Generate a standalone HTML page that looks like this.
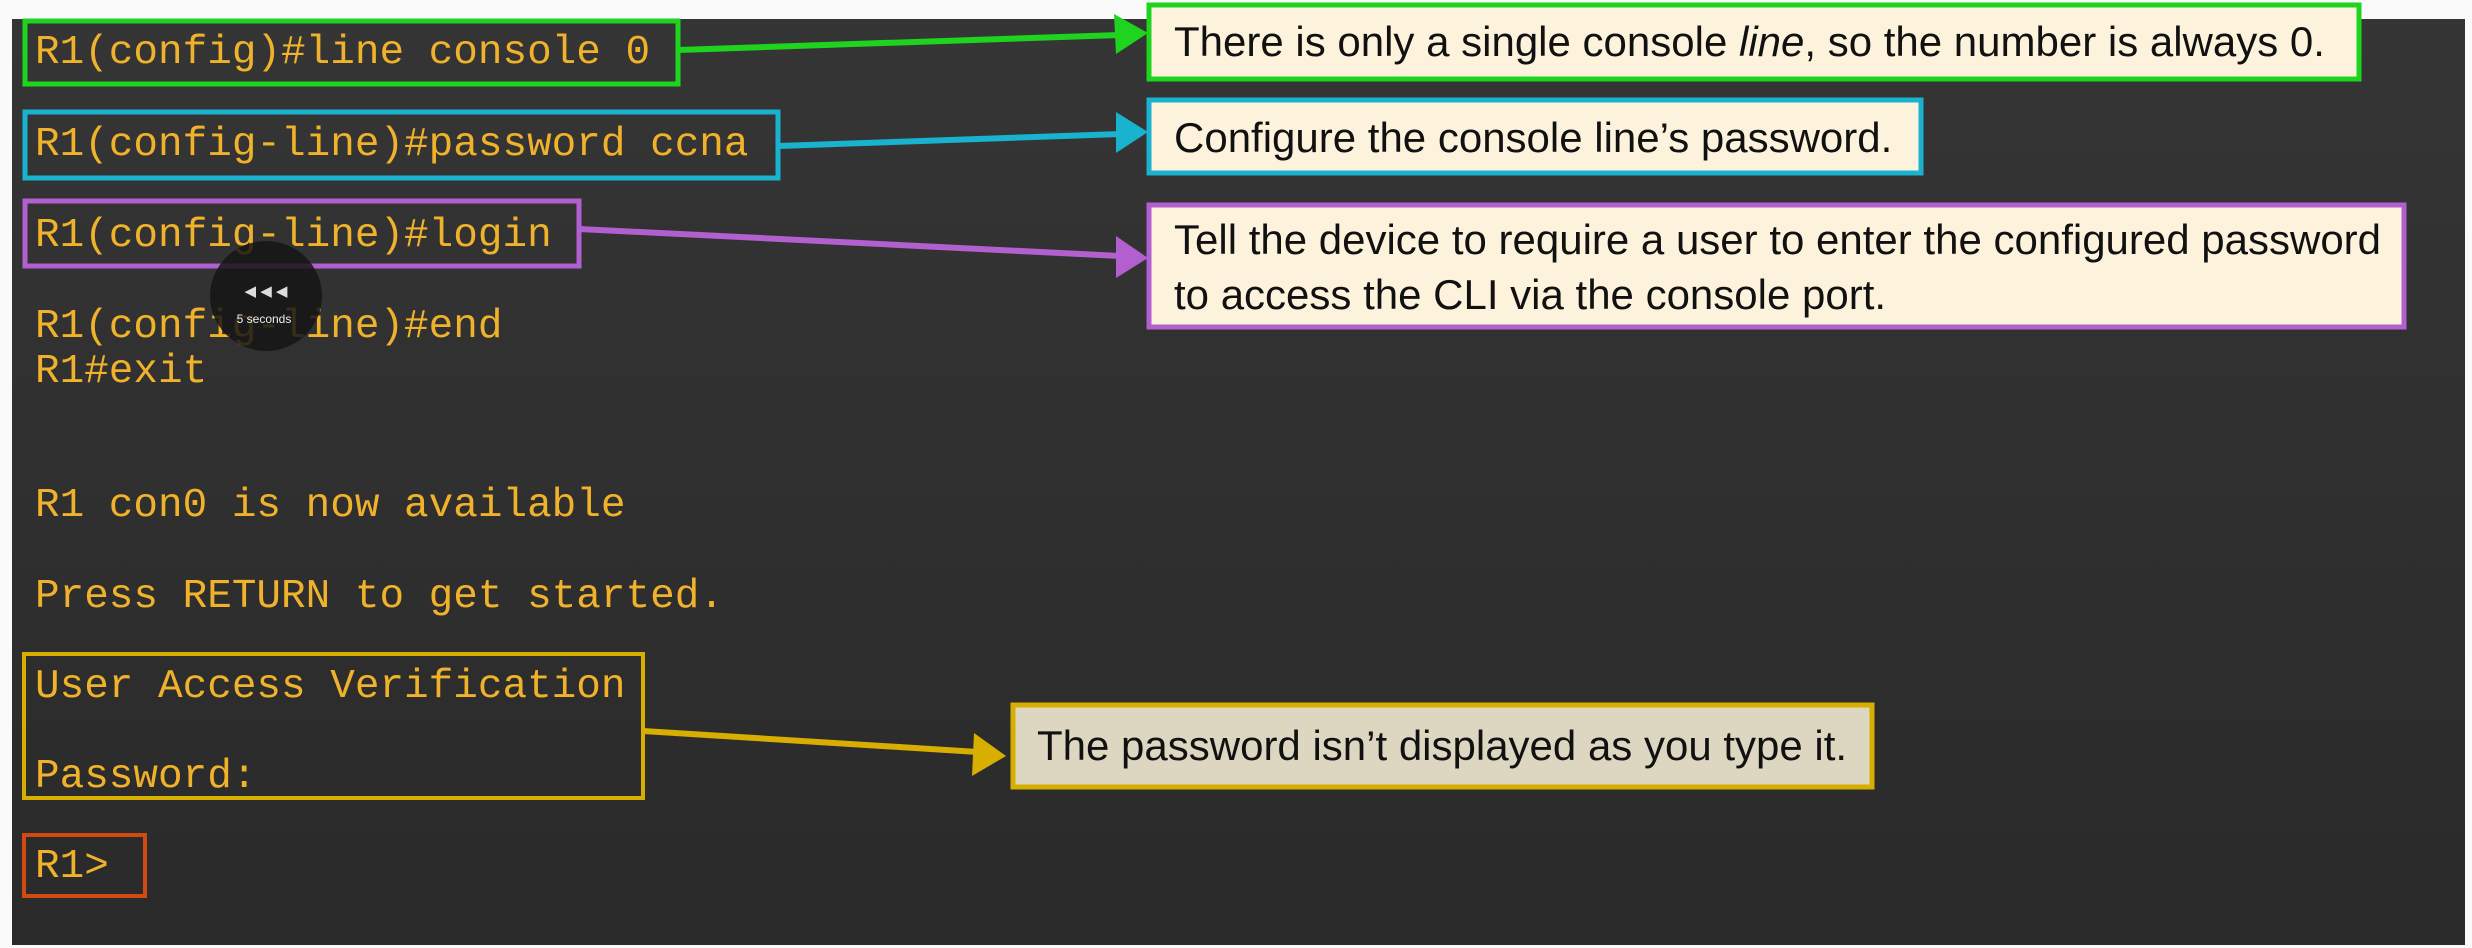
<!DOCTYPE html>
<html><head><meta charset="utf-8"><style>
html,body{margin:0;padding:0;background:#fff;width:2472px;height:948px;overflow:hidden}
svg{display:block}
.m{font-family:"Liberation Mono",monospace;font-size:41px;fill:#efb22a}
.s{font-family:"Liberation Sans",sans-serif;font-size:42px;fill:#111}
</style></head><body>
<svg width="2472" height="948" viewBox="0 0 2472 948" xmlns="http://www.w3.org/2000/svg">
<defs><linearGradient id="bg" x1="0" y1="0" x2="0" y2="1"><stop offset="0" stop-color="#353535"/><stop offset="1" stop-color="#2a2a2a"/></linearGradient></defs>
<rect x="0" y="0" width="2472" height="948" fill="#fafafa"/>
<rect x="12" y="19" width="2453" height="926" fill="url(#bg)"/>

<rect x="25" y="21" width="653" height="63" fill="none" stroke="#1fd41f" stroke-width="5"/>
<rect x="25" y="112" width="753" height="66" fill="none" stroke="#19b2cf" stroke-width="5"/>
<rect x="25" y="201" width="554" height="65" fill="none" stroke="#b25fcf" stroke-width="5"/>
<rect x="24" y="654" width="619" height="144" fill="none" stroke="#d8ae00" stroke-width="4"/>
<rect x="24" y="835" width="121" height="61" fill="none" stroke="#d04a12" stroke-width="4"/>

<text class="m" x="35" y="63">R1(config)#line console 0</text>
<text class="m" x="35" y="155">R1(config-line)#password ccna</text>
<text class="m" x="35" y="246">R1(config-line)#login</text>
<text class="m" x="35" y="337">R1(config-line)#end</text>
<text class="m" x="35" y="382">R1#exit</text>
<text class="m" x="35" y="516">R1 con0 is now available</text>
<text class="m" x="35" y="607">Press RETURN to get started.</text>
<text class="m" x="35" y="697">User Access Verification</text>
<text class="m" x="35" y="787">Password:</text>
<text class="m" x="35" y="877">R1&gt;</text>

<ellipse cx="266" cy="296" rx="56" ry="55" fill="#151515" opacity="0.85"/>
<text x="266" y="296" font-family="Liberation Sans,sans-serif" font-size="15" fill="#ddd" text-anchor="middle">◀ ◀ ◀</text>
<text x="264" y="323" font-family="Liberation Sans,sans-serif" font-size="12" fill="#eee" text-anchor="middle">5 seconds</text>

<line x1="678" y1="50" x2="1120" y2="35" stroke="#1fd41f" stroke-width="6"/>
<polygon points="1148,33 1114,14 1116,54" fill="#1fd41f"/>
<line x1="778" y1="146" x2="1120" y2="134" stroke="#19b2cf" stroke-width="6"/>
<polygon points="1148,132 1116,112 1116,153" fill="#19b2cf"/>
<line x1="579" y1="229" x2="1120" y2="256" stroke="#b25fcf" stroke-width="6"/>
<polygon points="1148,258 1116,236 1116,278" fill="#b25fcf"/>
<line x1="643" y1="731" x2="978" y2="752" stroke="#d8ae00" stroke-width="6"/>
<polygon points="1006,756 974,733 972,776" fill="#d8ae00"/>

<rect x="1149" y="5" width="1210" height="74" fill="#fdf3dc" stroke="#1fd41f" stroke-width="5"/>
<text class="s" x="1174" y="56">There is only a single console <tspan font-style="italic">line</tspan>, so the number is always 0.</text>
<rect x="1149" y="100" width="772" height="73" fill="#fdf3dc" stroke="#19b2cf" stroke-width="5"/>
<text class="s" x="1174" y="152">Configure the console line’s password.</text>
<rect x="1149" y="205" width="1255" height="122" fill="#fdf3dc" stroke="#b25fcf" stroke-width="5"/>
<text class="s" x="1174" y="254">Tell the device to require a user to enter the configured password</text>
<text class="s" x="1174" y="309">to access the CLI via the console port.</text>
<rect x="1013" y="705" width="859" height="82" fill="#ddd6c0" stroke="#d8ae00" stroke-width="5"/>
<text class="s" x="1037" y="760">The password isn’t displayed as you type it.</text>
</svg>
</body></html>
